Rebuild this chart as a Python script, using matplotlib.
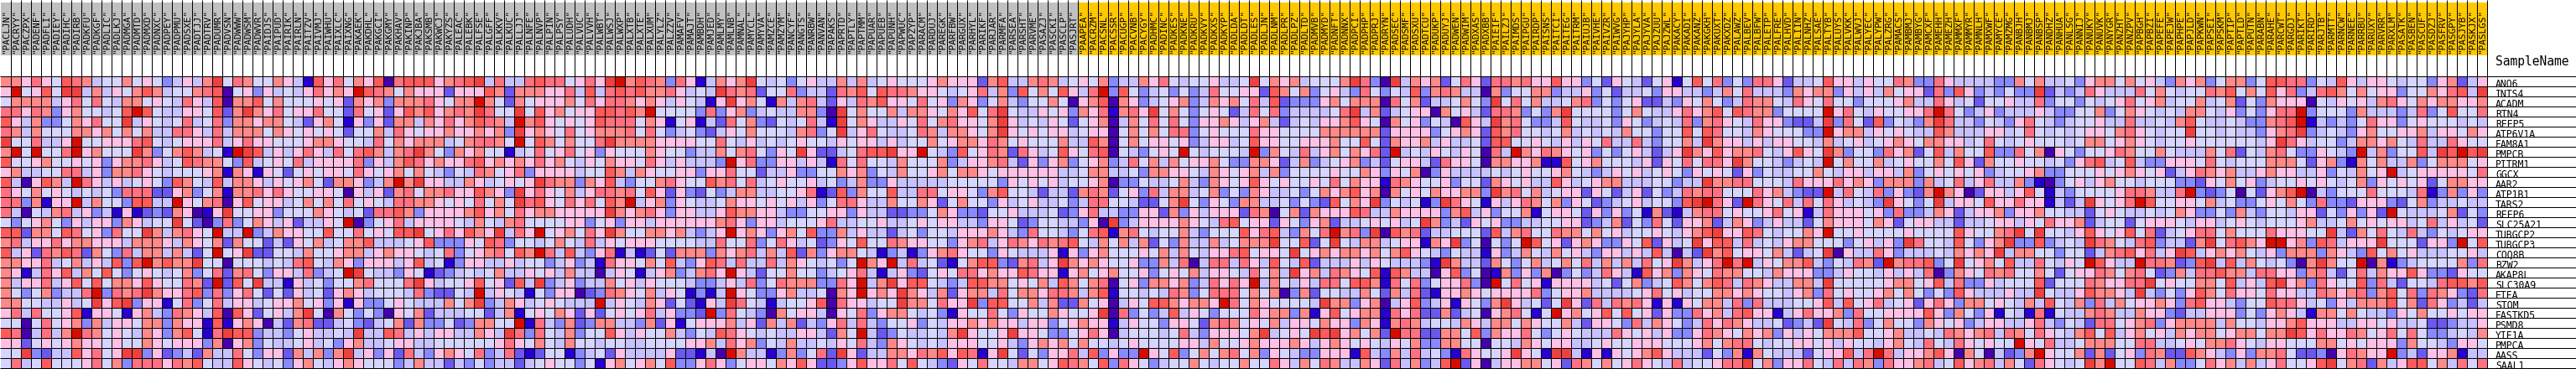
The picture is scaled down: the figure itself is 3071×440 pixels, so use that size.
import numpy as np
import matplotlib
matplotlib.use("Agg")
import matplotlib.pyplot as plt
from matplotlib.colors import ListedColormap

# 12 colour levels, 0 = lowest, b = highest
palette = ["#4500AD", "#2700D1", "#6B58EF", "#8888FF", "#C7C1FF", "#D5D5FF",
           "#FFC0E5", "#FF8989", "#FF7080", "#FF5A5A", "#EF4040", "#D60C00"]

genes = ["ANO6", "INTS4", "ACADM", "RTN4", "REEP5", "ATP6V1A", "FAM8A1", "PMPCB", "PITRM1", "GGCX",
         "AAR2", "ATP1B1", "TARS2", "REEP6", "SLC25A21", "TUBGCP2", "TUBGCP3", "COQ8B", "BZW2", "AKAP8L",
         "SLC30A9", "ETFA", "STOM", "FASTKD5", "PSMD8", "YIF1A", "PMPCA", "AASS", "SAAL1"]

samples_grey = """PACLJN PACRYY PACZPX PADENF PADFLI PADIEY PADIHC PADIRB PADKFU PADKGF PADLIC PADLKJ PADMGA PADMTD PADMXD PADNXC PADPEY PADPMU PADSXE PADTJJ PADTRV PADUMR PADVSN PADWWW PADWSM PADWVR PAIDJS PAIPUD PAIRIK PAIRLN PAITZV
PAIVMJ PAIWHU PAIXLC PAIXNG PAKAEK PAKDHL PAKGCI PAKGMY PAKHAV PAKINP PAKJBA PAKSMB PAKWCJ PAKYZS PALEAC PALEBK PALFSE PALGFF PALKKV PALKUC PALLJJ PALNFE PALNVP PALPIN PALPSY PALUDH PALVUC PALVVH PALWBT PALWSJ PALWXP
PALXTB PALXTE PALXUM PALYLZ PALZZV PAMAFV PAMAJT PAMBDH PAMJED PAMLMY PAMLNB PAMNAL PAMYCL PAMYVA PAMZCE PAMZYM PANCYF PANGTS PANRBW PANVAN PAPAKS PAPRTD PAPTLY PAPTMM PAPUAR PAPUEB PAPUNH PAPWUC PAPZYP PARACM PARDUJ
PAREGK PARFBW PARGUX PARHYL PARIKF PARJAR PARMFA PARSEA PARSHT PARVME PASAZJ PASCKI PASCLP PASJRT""".split()

samples_orange = """PAAPEA PACRZM PACSNL PACSSR PACUGP PACVNB PACYGY PADHMC PADINC PADKES PADKNE PADKRU PADKVY PADKXS PADKYP PADLDA PADLDT
PADLES PADLJN PADLNM PADLPR PADLPZ PADLTD PADMVB PADMYD PADNFT PADNNX PADPCI PADPHP PADPRJ PADRYN PADSEC PADSMF PADSXU PADTCU PADUKP PADUYJ PADWEN PADWIM PADXAS PADXBB PAIEIF PAILZJ PAIMDS PAIPGU PAIRDP PAISNS PAITCI
PAITEG PAITRM PAIUJB PAIVHE PAIVZR PAIWVG PAJYHP PAJYLA PAJYVA PAJZUU PAJZWL PAKACY PAKADI PAKANZ PAKGKH PAKUXT PAKXDZ PALAWZ PALBEV PALBFW PALETP PALFRE PALHVD PALIIN PALNHZ PALSAE PALTYB PALUYS PALVKK PALWVJ PALYEC
PALYPW PALZRG PAMACS PAMBMJ PAMBYG PAMCXF PAMEHH PAMEZH PAMMXF PAMMYR PAMNLH PAMXWF PAMYCE PAMZMG PANBJH PANBMJ PANBSP PANDHZ PANHUA PANLSG PANNIJ PANUKY PANUVK PANYGR PANZHT PANZPV PAPBGH PAPBZI PAPEFE PAPEJW PAPHPE
PAPJLD PAPKWN PAPSEI PAPSKM PAPTIP PAPTLD PAPUTN PARABN PARAHE PARCWT PARGDJ PARIKT PARIRD PARJTB PARMTT PARNCW PARNEE PARRBU PARUXY PARVRR PARXLM PASATK PASBEN PASCUF PASDZJ PASFRV PASGPY PASJYB PASKJX PASLGS""".split()

# heat levels, read by eye, one block per 31 columns
block1 = """7 7 6 8 6 5 9 8 7 4 5 5 7 5 6 5 3 4 6 4 7 a 5 8 7 5 5 7 6 4 1
6 b 5 6 9 5 a a 4 7 4 6 5 7 9 7 4 5 5 7 8 9 0 5 6 3 6 4 5 4 6
5 7 7 7 7 4 6 8 5 8 5 4 7 7 5 6 5 4 8 6 4 9 0 7 7 9 5 7 5 5 5
8 8 6 8 7 3 6 7 5 5 4 5 9 b 9 5 4 4 6 6 5 9 2 7 a 7 6 8 5 6 6
9 6 4 7 3 3 5 7 6 8 5 5 a 4 6 5 4 5 8 4 5 8 3 7 7 6 7 7 5 4 2
8 7 4 7 5 5 5 7 7 6 7 5 7 5 7 4 4 8 8 6 4 8 4 7 7 7 5 7 6 5 6
a 5 5 8 4 4 6 b 5 5 6 6 6 8 9 5 4 5 6 6 6 8 4 6 8 6 6 5 5 5 6
7 b 5 b 5 5 8 b 6 7 5 5 5 a 7 3 5 7 9 7 4 5 1 b a 9 4 6 4 6 8
9 5 5 6 7 5 5 6 5 6 3 6 7 7 8 6 4 5 9 8 7 7 5 3 9 4 5 6 5 8 4
6 7 4 4 5 5 8 8 4 6 3 7 7 8 6 5 4 5 5 5 6 7 1 7 6 1 6 5 2 5 6
9 4 0 6 9 7 4 b 8 6 4 6 4 5 6 5 3 9 7 5 4 9 4 7 7 6 4 6 5 6 7
8 6 5 7 5 6 5 4 5 4 5 3 8 8 8 2 2 6 7 3 5 7 1 7 7 8 6 8 6 5 5
8 8 3 7 1 6 6 b 4 7 5 5 3 9 9 4 4 b 6 5 7 8 0 6 9 5 6 6 4 5 7
8 4 0 5 4 7 8 4 6 3 4 1 6 1 2 3 2 7 6 0 1 6 a 5 5 6 6 3 5 5 5
5 3 5 6 7 5 3 6 4 6 6 3 7 6 4 5 5 a 5 2 0 3 8 3 5 7 6 4 6 2 4
9 9 2 7 7 5 9 8 5 6 3 8 5 5 a 7 4 7 8 6 5 b 4 4 b 3 4 7 6 6 5
7 8 4 6 6 8 6 7 7 6 6 6 4 7 7 7 6 4 7 6 5 7 2 7 5 5 2 4 2 6 5
9 4 6 2 8 7 9 8 2 7 5 3 8 4 7 7 4 7 4 2 5 b 5 6 a 2 2 5 5 4 7
7 7 6 6 8 4 5 7 4 6 4 9 3 9 b 7 9 7 7 a 5 5 0 5 5 5 4 5 4 8 9
7 6 1 4 8 6 9 4 7 5 9 5 3 5 6 5 4 5 7 3 5 8 2 7 8 5 3 6 6 4 8
7 4 6 6 8 4 6 9 5 9 5 7 7 6 9 6 5 5 8 7 2 b 2 9 5 a 4 4 1 6 4
7 5 3 5 7 3 4 4 8 b 3 8 7 8 a 7 6 6 8 9 3 8 3 6 8 5 2 5 2 6 4
7 7 5 5 4 4 6 4 5 a 6 9 a 3 6 6 1 5 8 3 5 8 4 6 6 4 5 6 6 7 5
6 8 4 8 5 5 6 9 1 6 6 5 1 6 7 4 3 8 7 6 4 9 0 9 6 2 5 6 4 7 a
5 5 0 5 8 5 6 7 3 7 4 6 6 5 7 7 3 7 6 6 1 9 1 6 7 6 0 4 2 7 8
9 8 0 4 8 4 7 b 8 7 5 6 5 4 7 6 3 7 9 5 1 8 a 9 9 3 4 4 3 5 6
6 6 2 5 6 5 6 7 6 6 5 6 5 5 7 6 5 6 6 6 3 7 0 6 7 3 5 4 4 5 6
5 5 a 3 2 4 4 9 6 8 5 6 a a 3 6 2 3 4 2 7 4 4 8 5 3 6 6 2 7 4
5 8 4 5 9 5 5 5 6 8 5 7 3 8 8 8 6 8 7 9 5 4 4 9 6 5 4 5 3 6 7"""

block2 = """9 6 8 5 7 6 9 0 8 9 9 9 6 7 8 9 a 4 8 4 4 8 9 8 8 5 6 8 6 a b
8 6 7 6 b 9 8 7 5 7 6 6 6 2 6 6 6 9 7 2 7 7 7 6 6 8 4 9 4 8 9
6 5 6 2 7 6 7 3 7 7 7 8 6 5 7 7 b 7 5 2 7 5 6 6 6 7 5 8 6 8 8
8 5 5 2 8 5 6 2 6 9 7 9 6 7 8 7 a 8 5 5 a 5 9 6 7 5 6 6 9 9 8
6 7 5 1 6 3 6 2 7 7 4 7 6 8 6 7 9 8 7 4 b 7 9 6 5 6 5 6 9 8 8
5 6 5 2 5 5 7 4 8 6 5 6 6 7 6 6 7 6 7 3 a 6 7 6 5 8 5 6 7 7 7
7 7 6 5 5 4 8 5 7 6 7 7 7 4 5 7 8 8 7 5 b 5 9 7 5 7 5 5 8 a 7
6 4 8 5 8 9 7 4 7 8 a 7 5 3 7 6 7 5 5 1 4 5 8 5 6 8 5 6 3 6 5
6 6 6 6 8 3 6 4 7 9 8 6 7 6 6 8 9 6 7 6 7 6 8 6 7 5 4 6 5 7 6
5 6 6 5 8 6 5 6 7 5 7 5 4 3 5 4 8 7 5 6 8 3 6 6 6 6 4 5 5 9 7
5 2 7 7 6 3 4 7 b 7 a 6 6 4 4 7 6 4 5 6 5 6 a 8 7 7 3 7 6 9 4
6 6 5 0 6 4 6 2 7 8 5 7 7 8 6 6 9 7 6 3 a 6 8 6 5 7 4 6 8 8 7
5 7 5 8 5 6 5 4 8 8 7 7 6 5 6 5 8 5 7 5 a 8 9 6 5 8 6 8 5 9 7
7 6 5 4 5 2 8 8 9 7 3 6 6 6 6 7 9 6 7 5 8 6 7 7 6 6 6 6 6 a 7
4 6 5 b 0 3 5 6 8 4 6 6 6 6 5 4 7 5 4 7 8 5 5 5 5 6 6 3 5 6 3
5 9 5 5 8 5 6 5 9 9 a 5 6 8 6 9 7 6 a 4 8 6 b 5 6 7 5 8 6 a 7
7 4 5 7 7 9 4 4 4 5 6 9 3 3 3 6 5 9 8 3 5 5 4 5 7 5 4 8 4 6 5
5 5 6 7 7 4 6 7 6 6 5 4 5 8 3 5 6 7 8 5 9 7 b 8 4 9 4 3 6 8 1
5 4 7 6 3 6 6 6 4 6 9 4 5 1 3 6 6 4 4 6 4 5 5 3 4 6 3 4 1 8 6
3 4 5 b a 5 4 4 3 6 5 1 2 3 4 5 4 5 7 4 4 6 5 6 4 7 4 4 0 4 6
5 3 5 5 7 8 5 5 5 8 a 6 4 5 5 6 9 5 6 2 9 4 a 3 4 6 3 4 4 7 5
5 2 6 7 6 4 5 5 5 4 8 3 2 2 5 4 b 4 6 5 4 1 5 3 6 6 0 2 3 8 7
6 3 6 1 6 3 3 5 6 5 4 4 4 7 5 7 a 3 4 7 6 4 5 6 5 4 4 4 b 4 6
5 0 7 5 3 5 3 0 6 5 7 2 4 4 4 5 5 2 4 7 1 5 6 5 7 6 2 6 2 5 6
2 2 4 5 3 2 4 5 7 2 7 3 3 5 2 3 7 7 5 5 b 1 8 4 3 7 2 3 7 7 4
4 4 5 4 a 4 4 9 8 4 6 4 6 6 4 4 7 6 4 a 8 3 8 5 4 7 3 5 5 9 6
4 5 3 6 7 4 4 5 6 6 4 4 5 5 5 5 5 5 6 8 6 5 7 5 4 7 5 5 4 5 5
7 3 7 a 4 6 3 6 2 8 4 3 6 7 6 5 8 3 4 8 2 1 2 5 5 1 3 4 5 2 6
5 4 6 7 6 5 5 5 3 4 7 4 4 2 4 3 5 3 4 4 2 4 5 6 5 5 3 5 1 6 7"""

block3 = """7 9 8 7 3 8 6 1 4 7 6 7 a 5 4 5 3 5 6 4 4 7 4 7 4 5 6 5 5 5 6
8 9 7 7 8 6 4 5 4 a 8 7 8 2 5 5 8 3 4 4 2 8 7 9 5 9 8 8 7 6 6
7 6 7 6 4 6 5 4 1 6 a 6 7 5 1 7 4 7 8 4 2 6 4 8 7 9 6 6 5 8 5
9 7 b 5 5 5 5 3 8 3 6 7 3 4 5 4 4 7 7 3 0 a 5 7 5 5 7 4 7 7 6
8 5 7 6 1 5 6 1 4 2 8 5 7 3 2 5 4 5 8 4 1 a 5 7 6 4 4 6 5 8 5
8 5 8 5 3 4 5 3 2 4 6 5 7 5 5 5 4 7 8 3 5 a 4 6 8 5 4 4 5 8 7
7 7 7 6 6 6 6 5 5 8 5 4 6 4 5 4 5 6 5 5 4 6 5 6 6 4 6 4 5 5 7
5 5 7 6 5 5 3 4 4 7 5 7 8 5 3 6 5 a 6 2 2 4 5 8 9 9 a 6 6 b 5
6 5 8 6 4 6 4 4 4 3 b 6 8 3 3 6 6 4 6 4 1 8 5 8 5 5 4 7 5 5 5
4 7 6 5 5 6 6 3 6 6 8 5 5 2 4 4 6 3 3 5 5 7 6 7 3 5 4 7 5 5 6
3 5 5 7 8 6 5 5 9 7 8 5 8 4 5 6 5 5 6 4 5 3 4 7 3 3 6 4 4 4 4
8 5 9 6 2 6 3 2 5 3 4 7 7 4 4 5 5 6 8 1 2 9 3 7 5 5 9 4 4 8 8
b 4 6 7 3 6 5 4 4 5 7 6 6 5 6 5 6 4 6 3 5 8 8 6 4 4 7 5 5 7 6
6 7 8 6 3 6 6 4 4 6 9 7 7 6 6 4 3 3 5 5 6 6 3 6 4 4 2 2 3 3 5
6 6 4 6 6 6 6 6 6 7 8 6 3 6 6 4 5 5 5 6 8 4 4 5 5 6 4 4 5 6 5
5 5 7 7 6 7 4 3 4 6 b 6 7 6 3 6 7 5 9 3 3 7 4 6 4 4 2 4 5 3 5
6 6 6 5 5 5 5 4 4 8 5 5 8 3 5 8 6 4 5 2 3 6 5 9 5 5 8 7 6 6 5
4 1 2 5 2 7 7 7 3 7 6 7 8 4 7 4 9 2 7 3 6 7 7 5 4 1 3 4 1 3 6
6 5 7 5 9 4 3 6 9 8 4 8 4 4 8 4 7 6 5 4 5 3 5 b 7 6 b 4 8 4 5
5 1 4 6 7 3 4 7 8 6 b 6 4 2 5 5 7 5 5 3 4 5 6 8 4 1 4 6 3 2 5
6 4 6 5 5 5 4 3 3 4 6 4 8 3 5 8 7 7 7 3 3 8 6 b 4 7 a 6 9 9 5
6 5 7 4 6 5 1 3 1 4 b 6 5 3 3 6 7 4 4 5 0 7 6 b 6 7 6 a 7 6 4
5 4 7 6 2 5 2 1 6 4 a 8 5 4 1 4 5 5 6 9 0 8 6 6 4 5 5 a 7 7 5
5 6 8 4 6 3 3 2 b 3 8 5 4 3 0 7 5 6 6 4 0 6 5 8 3 6 7 7 5 4 5
4 3 7 2 6 1 5 6 6 6 7 4 6 2 7 4 7 2 4 3 6 8 4 8 4 3 5 5 6 3 5
4 6 5 5 7 4 3 5 4 9 8 6 5 4 5 4 4 6 6 4 2 7 5 b 4 2 3 5 4 4 5
4 4 5 5 5 5 6 6 7 4 8 6 7 3 5 4 7 4 4 5 4 6 5 8 4 3 7 6 5 4 5
4 4 4 4 6 2 2 1 4 0 b 7 4 4 1 3 7 3 5 8 2 a 6 2 4 4 7 7 6 8 7
5 6 7 5 9 3 3 6 8 6 3 5 6 6 5 7 6 9 6 2 2 3 6 9 6 6 8 5 9 5 4"""

block4 = """7 6 6 6 2 7 9 4 4 7 8 7 4 5 6 5 7 3 4 4 7 6 8 5 4 5 5 6 4 4 5
5 4 5 6 8 4 7 3 9 5 7 5 9 6 4 8 b 3 9 5 3 4 5 3 5 3 4 8 5 5 6
6 3 7 6 3 5 7 4 3 5 5 7 5 0 6 7 9 0 7 6 3 4 5 6 7 3 4 7 6 7 5
5 7 6 9 5 8 a 5 4 4 6 5 6 3 7 6 8 1 7 8 6 a 5 7 5 3 5 6 5 2 4
7 8 6 6 5 7 a 6 4 5 4 6 5 2 5 6 7 0 4 7 5 8 5 8 5 3 6 6 7 6 4
4 7 7 6 5 7 a 6 5 6 5 6 6 4 5 6 6 0 5 7 5 7 5 8 8 3 5 6 5 5 5
5 6 7 7 6 8 7 5 6 5 5 5 7 4 4 9 7 0 5 7 5 6 6 5 6 3 4 6 6 4 5
4 3 9 5 6 8 7 2 8 6 4 5 9 6 5 8 9 0 5 4 3 5 6 5 b 5 4 5 5 5 4
7 3 4 6 6 7 8 4 2 6 3 6 7 3 5 6 7 3 4 8 5 7 4 7 5 6 6 7 5 3 3
7 5 7 7 6 5 6 6 6 6 6 6 4 4 5 7 7 4 4 5 3 7 7 6 6 5 4 7 6 5 6
4 5 5 5 5 5 3 6 5 6 5 6 4 5 5 6 7 0 3 3 5 4 4 5 7 4 3 7 6 5 6
5 6 6 5 3 7 9 5 5 4 2 4 4 2 7 8 7 2 5 6 3 8 4 7 7 4 5 7 3 5 3
2 5 7 5 5 3 6 4 5 6 4 4 5 3 4 8 8 5 5 4 2 2 5 7 a 5 3 6 5 3 7
7 6 3 3 2 5 5 6 4 4 4 5 2 3 6 8 4 4 3 3 6 6 2 7 3 6 4 6 6 6 2
6 6 4 4 3 6 6 5 2 3 5 5 4 4 3 6 0 a 3 4 6 6 6 6 7 6 5 4 8 9 5
5 4 6 6 6 7 6 4 3 8 5 5 4 3 5 8 9 1 7 8 5 4 5 5 7 4 3 5 5 5 9
5 3 6 7 8 4 6 8 7 6 8 7 8 9 5 4 7 5 7 4 7 2 5 3 7 4 4 7 4 5 7
7 8 6 5 5 3 6 5 4 4 4 6 1 6 3 6 7 5 5 5 6 5 7 4 7 5 4 6 6 8 9
2 1 5 7 9 9 3 2 7 8 4 6 a 7 6 7 6 5 5 6 3 3 7 4 8 0 4 8 8 4 8
6 5 8 8 6 7 6 6 9 8 6 6 1 6 7 5 6 7 5 5 6 3 5 6 5 7 4 6 6 5 4
4 3 4 9 9 7 7 5 6 5 7 4 9 7 5 7 8 0 5 6 3 7 7 6 7 3 4 8 6 8 6
7 2 6 7 7 4 8 5 7 7 6 8 8 7 4 7 9 1 5 5 4 5 4 8 7 3 5 8 8 8 5
8 6 6 a 3 9 9 5 5 7 4 7 2 2 7 5 6 0 4 6 5 9 9 7 6 7 7 6 b 8 5
3 1 6 5 5 8 5 3 6 5 5 7 6 5 5 6 a 0 8 3 5 3 4 9 4 6 5 3 5 5 5
4 6 6 7 6 7 6 6 4 6 6 3 5 6 7 6 6 1 4 6 5 5 3 6 6 5 2 7 8 7 5
4 7 a 6 5 5 6 a 6 6 5 3 3 5 6 8 6 0 4 5 5 5 4 5 8 4 3 6 6 6 5
4 6 6 6 5 5 6 4 3 6 7 6 7 5 7 5 5 4 5 6 5 5 5 5 6 6 4 7 5 5 6
9 6 9 8 1 6 a 5 2 5 3 6 6 8 4 9 3 6 3 3 b 6 5 9 3 5 7 5 7 8 5
3 2 6 5 8 5 5 4 7 7 5 6 9 8 7 5 9 3 8 6 5 3 4 5 5 7 5 4 5 5 7"""

block5 = """a 5 7 6 7 4 5 5 5 7 a 8 3 0 a 4 7 6 7 2 5 8 6 2 8 8 7 8 6 6 9
6 2 9 7 5 7 3 5 6 4 3 8 5 3 5 4 9 3 7 8 7 4 4 0 7 3 5 5 7 7 3
8 4 9 2 3 3 3 6 7 5 7 7 7 0 8 5 7 2 4 4 5 7 5 3 a 5 8 5 7 4 4
8 5 8 3 4 4 4 4 5 8 a 4 7 2 4 5 6 6 0 7 5 6 4 2 8 8 7 3 5 3 7
6 7 4 2 4 5 4 6 6 7 9 6 5 0 7 5 6 3 5 4 0 9 6 4 a 7 8 5 3 3 4
8 6 6 5 5 5 5 7 7 7 7 7 7 2 6 6 6 6 3 5 6 7 6 2 9 7 8 5 5 4 5
9 6 6 5 5 6 6 6 7 5 5 9 5 2 7 6 6 7 4 6 4 4 5 2 9 9 5 5 6 5 4
b 3 7 5 4 8 4 6 7 5 7 6 8 2 b 4 5 4 6 5 4 6 5 0 8 4 b 7 6 8 7
7 7 6 2 4 7 3 4 5 6 7 3 4 2 5 6 6 4 2 8 6 6 5 0 7 7 6 6 7 1 1
7 4 7 3 5 5 5 5 6 5 5 7 6 3 6 5 7 0 3 6 4 4 4 4 5 4 5 6 5 5 6
9 6 5 6 5 5 6 5 8 5 7 6 6 1 8 7 6 5 5 6 3 5 5 2 7 6 5 6 4 4 9
7 6 4 4 5 3 5 7 6 7 9 6 7 0 7 5 6 5 7 6 6 7 7 3 a 7 8 5 7 4 5
7 4 4 5 3 5 3 2 9 5 7 6 a 3 5 4 5 1 3 a 8 6 5 1 6 4 6 8 7 5 7
8 7 0 5 7 2 7 6 6 6 9 8 4 4 7 6 6 6 6 3 7 9 4 6 3 5 5 7 1 5 6
6 6 2 6 5 3 6 7 2 4 4 5 6 5 6 4 5 a 7 3 4 2 6 5 6 3 3 4 4 5 5
6 8 9 4 3 7 5 8 b 7 8 3 a 0 9 7 8 2 4 4 5 5 5 2 9 4 7 8 5 5 8
7 7 a 5 5 9 2 5 a 5 4 7 7 4 5 6 6 1 7 6 a 3 5 0 5 3 5 b 9 5 6
5 6 6 5 a 5 6 7 6 7 7 6 7 5 7 9 6 5 4 3 5 4 4 1 6 3 4 7 5 4 7
6 4 9 5 4 9 2 4 4 4 6 4 6 5 4 4 4 3 1 a 7 4 4 2 7 5 3 5 7 4 5
8 5 7 4 a 6 7 4 8 7 6 5 9 1 9 7 4 4 0 6 9 3 5 0 1 7 3 6 3 7 0
b 4 7 5 4 6 4 8 8 5 9 9 7 1 8 5 8 3 5 6 6 8 3 0 b 5 8 5 6 1 6
7 5 7 0 3 7 2 5 5 4 4 7 5 2 7 4 8 2 1 6 6 7 6 5 6 6 6 6 8 3 5
7 6 5 5 5 5 4 a 7 7 3 6 7 0 4 6 9 3 4 6 1 6 5 3 7 a 6 4 5 2 5
8 6 7 7 3 7 1 6 9 5 6 7 7 1 8 6 8 2 2 7 2 4 5 0 6 7 8 5 1 5 b
6 5 7 4 6 6 5 7 6 6 3 7 6 1 7 8 7 4 5 5 4 7 6 4 7 7 5 7 6 5 5
7 a 4 5 6 5 a 9 a 6 7 5 7 2 b 8 8 2 2 7 7 5 9 3 7 6 6 8 5 3 5
7 6 6 6 7 6 4 6 7 6 5 6 5 4 6 5 7 3 3 7 7 5 5 0 5 5 4 7 6 5 6
7 3 6 5 4 3 3 6 6 6 1 9 4 3 7 4 8 4 5 3 1 8 6 5 5 6 a 6 5 1 a
5 5 8 6 4 7 5 8 7 4 4 7 6 2 8 4 7 3 4 9 b 2 6 0 4 6 6 7 7 5 6"""

block6 = """6 6 3 5 2 6 5 4 2 5 6 1 5 9 5 8 3 5 3 8 8 6 2 4 4 5 9 6 6 4 6
4 4 6 3 5 2 4 4 5 3 6 6 4 4 3 4 7 5 8 4 4 4 3 7 6 7 7 3 6 4 6
5 7 8 3 5 3 5 6 2 2 4 3 6 5 7 5 3 4 8 7 7 5 4 8 6 5 8 5 5 3 5
a 5 5 5 5 3 5 7 5 4 4 6 8 6 7 9 5 9 8 7 7 3 5 5 5 5 b 6 8 5 4
9 5 4 4 5 3 6 5 3 4 5 4 8 3 7 8 6 5 4 8 6 6 3 2 2 4 a 3 8 5 2
7 4 5 4 5 4 7 5 5 3 5 5 9 5 9 8 5 5 4 7 6 5 5 5 3 3 b 6 7 7 4
6 4 6 5 8 4 4 8 4 3 5 5 7 4 a 7 6 6 4 6 4 6 6 5 5 4 7 4 5 6 4
6 5 6 3 5 3 5 6 4 2 4 6 a 7 6 9 6 7 7 8 5 4 6 9 6 5 a 7 3 5 5
9 5 6 7 5 5 5 4 6 2 6 5 8 5 8 8 6 a 7 5 5 4 3 4 5 4 b 5 7 5 5
7 5 4 3 4 6 5 6 4 5 6 5 3 6 5 6 5 2 6 3 5 4 4 5 5 7 5 4 6 6 4
6 4 5 6 7 7 4 4 4 5 5 3 4 4 a 7 7 8 8 5 5 5 4 8 6 6 6 8 6 7 6
6 6 2 6 5 2 4 6 2 5 3 4 8 7 8 8 5 5 5 8 6 7 4 3 2 2 b 4 8 5 4
3 6 5 2 3 4 5 6 4 5 5 3 9 a b 8 6 2 b 8 6 5 8 4 8 5 8 6 4 5 4
6 5 2 6 3 6 3 5 1 7 2 1 4 7 8 8 5 6 5 5 6 8 5 6 1 4 8 6 6 6 5
6 6 2 3 4 7 2 5 3 8 5 2 6 6 7 2 4 7 6 3 4 6 4 4 2 5 7 6 6 6 5
7 7 5 7 5 6 4 5 5 6 5 4 6 7 9 a 6 6 9 8 5 4 5 5 7 6 b 5 5 6 5
2 6 7 6 3 3 6 5 9 2 6 4 5 a 6 9 9 4 8 4 5 4 6 7 7 5 5 5 3 5 6
5 6 4 3 6 6 4 6 4 9 4 0 4 2 a 7 9 5 6 6 5 7 4 2 4 5 a 0 6 4 4
7 5 8 4 7 4 7 4 8 5 6 a 7 4 6 8 b 8 b 4 6 5 7 7 9 4 3 5 4 8 7
3 5 3 4 8 6 4 1 9 6 7 3 7 6 5 8 7 7 5 5 4 7 6 6 6 3 3 4 6 5 5
6 6 6 4 5 2 5 7 3 4 5 9 7 5 7 9 8 4 8 7 6 4 4 7 7 4 a 5 5 5 5
6 6 7 4 4 4 4 5 6 8 5 6 4 5 5 7 7 6 7 6 5 5 4 6 7 3 8 5 6 5 5
a 6 2 8 4 8 7 8 6 1 6 1 6 5 7 7 4 8 3 8 4 4 4 5 5 6 9 4 9 5 6
6 7 5 6 9 5 9 5 6 2 6 3 3 8 6 7 4 8 9 6 6 1 4 6 8 6 6 7 3 8 5
7 4 2 6 6 5 3 8 4 7 6 5 3 4 8 6 8 7 6 4 4 5 2 3 4 2 a 5 4 8 3
6 5 4 4 4 8 6 5 6 4 6 3 3 6 8 7 6 5 7 6 7 3 6 4 6 5 7 7 7 9 5
6 4 4 5 6 5 5 6 6 6 5 5 5 6 7 5 7 8 8 5 4 5 5 6 6 5 6 4 6 5 5
a 4 1 6 1 6 5 6 7 9 6 4 4 4 2 5 3 7 1 7 5 4 4 4 2 5 6 6 9 4 8
2 8 7 5 7 5 6 8 6 5 4 8 4 5 5 6 8 8 a 5 7 3 6 6 8 5 4 8 4 8 7"""

block7 = """5 5 8 7 3 3 8 6 4 4 4 4 3 3 7 5 7 4 4 5 3 6 7 7 5 7 5 6 4 3 7
4 7 5 6 6 2 8 3 9 6 3 4 3 5 3 3 a 2 4 3 4 8 6 4 4 4 8 5 7 5 4
5 5 6 7 4 4 8 6 4 5 2 5 5 6 4 4 8 3 5 5 3 5 4 5 6 8 5 6 7 4 5
6 5 5 6 6 8 b 8 5 3 4 6 3 4 4 4 6 4 3 3 5 5 7 3 5 7 6 5 4 5 4
9 3 5 4 3 7 a 8 4 4 3 5 4 3 6 8 5 4 3 4 5 5 6 4 4 8 4 4 5 4 7
6 5 6 5 4 4 9 7 4 4 4 6 6 4 5 8 5 4 5 4 5 6 6 5 7 8 6 5 4 5 5
5 6 7 6 5 7 7 6 6 4 5 8 5 4 5 6 5 5 5 4 5 7 7 5 6 7 6 5 4 5 5
3 8 6 7 2 5 9 4 7 5 5 9 3 3 8 5 7 0 6 5 3 5 5 6 8 7 5 5 7 5 4
7 4 5 6 5 5 7 5 9 6 2 7 5 5 6 5 5 4 5 3 6 8 9 4 5 9 4 3 3 6 6
6 6 4 7 3 5 6 5 6 5 6 3 4 5 5 6 7 3 3 5 5 5 6 5 6 7 6 5 6 2 4
3 7 7 7 3 7 4 5 8 4 6 8 4 4 7 3 1 0 3 5 6 4 6 7 5 5 4 5 5 5 3
8 3 6 3 2 7 b 7 6 0 2 6 6 4 6 9 5 1 4 3 5 5 5 5 6 8 8 7 4 4 8
3 a 6 5 3 5 a 4 6 6 5 9 6 6 8 6 6 1 4 2 4 a 6 5 6 8 b 9 5 5 6
6 3 8 3 3 4 7 6 2 4 6 6 7 3 6 6 7 5 5 4 4 2 5 6 5 4 4 5 4 5 7
7 6 2 5 6 6 4 4 2 4 4 5 6 6 4 6 5 8 6 6 7 2 4 5 5 2 5 6 6 6 5
5 5 5 6 5 5 5 5 9 6 5 5 7 8 a 5 a 5 5 4 6 9 6 5 6 9 5 8 2 4 5
4 6 3 a 8 5 5 4 9 5 3 6 7 a 3 3 9 3 4 5 4 a 8 7 5 4 8 9 3 4 4
8 6 3 4 4 4 5 4 7 6 7 6 a 4 7 7 5 5 3 5 5 2 4 7 8 9 6 8 4 6 a
2 b 7 8 8 9 3 5 a 5 6 7 5 9 4 4 8 5 4 6 5 b 9 6 4 4 b 8 8 7 2
4 6 4 6 4 8 0 3 7 6 5 8 7 8 5 5 7 5 2 5 6 6 8 7 5 7 8 5 2 3 7
5 6 7 7 5 6 9 4 8 3 3 6 4 5 5 5 9 2 5 5 5 8 7 6 6 8 8 a 5 6 5
6 7 5 7 5 3 5 3 9 6 4 4 4 6 4 4 a 5 4 4 6 9 7 7 6 4 a 4 3 5 3
8 4 5 6 2 6 8 6 3 7 7 5 6 5 4 7 4 9 5 4 7 3 8 4 7 5 6 6 7 6 3
5 6 6 6 6 9 6 3 7 5 3 6 1 5 4 1 8 1 5 4 4 7 8 7 4 4 7 6 6 3 2
5 7 5 5 3 7 6 5 6 3 4 6 6 4 4 6 8 4 3 5 4 2 8 8 5 6 7 8 3 6 7
5 6 7 4 4 5 4 8 7 6 7 8 4 8 7 5 8 6 5 4 7 9 5 9 4 6 7 5 6 4 7
4 6 7 5 4 8 5 4 8 6 5 6 5 5 b 6 5 8 4 4 5 7 7 7 5 5 8 8 4 4 5
b 8 4 6 6 7 9 6 0 7 5 0 4 2 3 7 b 6 5 5 7 2 7 2 5 6 3 8 7 2 2
3 8 6 6 7 8 4 5 9 6 7 8 4 7 5 2 8 6 5 4 5 a 7 b 5 5 9 8 4 7 3"""

block8 = """6 7 3 5 7 7 3 5 9 9 8 8 3 5 4 9 6 4 6 6 5 4 5 5 3 6 7 2 4 6
5 5 8 7 9 5 7 5 9 6 8 3 4 8 9 7 5 7 5 6 6 3 5 5 7 6 8 9 4 a
5 7 4 5 7 2 5 3 7 6 6 6 0 5 4 6 5 6 4 7 8 6 5 7 6 7 7 6 6 7
7 7 5 4 6 3 5 3 6 8 8 b 3 5 5 5 3 7 4 4 4 3 4 8 3 5 9 5 5 8
9 5 4 4 5 4 3 3 7 8 9 b 1 4 3 4 3 5 8 6 6 3 5 6 5 5 5 4 5 4
a 5 5 4 5 4 4 3 6 7 8 a 3 4 5 4 3 6 7 5 5 6 6 7 4 6 6 5 7 6
6 5 5 5 5 5 5 4 6 a 8 6 4 5 5 3 4 7 7 6 7 5 4 8 4 4 8 6 5 5
4 4 7 5 8 2 5 4 7 8 5 3 3 6 5 4 3 b 4 7 3 5 5 9 4 a 9 b 9 a
6 5 8 5 4 5 5 5 7 7 7 5 2 6 7 3 1 7 5 7 4 4 7 3 5 7 7 7 5 6
6 8 7 6 7 4 4 6 7 6 6 4 4 6 3 5 4 7 5 6 b 4 5 6 6 6 6 6 5 8
3 2 6 5 7 5 6 3 4 5 5 6 5 6 5 4 5 7 3 6 5 6 5 6 2 5 7 7 6 6
b 3 2 3 5 0 5 2 6 7 9 b 0 4 3 5 5 5 8 5 5 5 4 8 1 3 7 3 6 3
6 5 7 4 5 3 3 5 6 5 7 5 3 8 3 3 2 6 6 6 3 2 5 7 3 4 4 5 4 4
6 3 3 5 3 7 4 3 5 5 4 6 6 2 5 3 6 3 6 2 b 5 4 4 4 5 7 2 5 3
4 6 6 4 5 6 5 4 5 5 5 6 7 4 4 5 7 5 6 5 6 6 4 5 8 4 6 4 5 2
6 8 8 5 7 5 5 5 8 6 6 6 5 5 a 4 2 7 5 8 5 4 8 4 3 5 4 5 6 6
2 7 a 5 8 9 7 6 b b 6 7 3 9 8 4 6 6 6 a 5 5 5 2 6 6 3 b 5 9
9 4 6 7 6 7 5 4 6 3 7 7 7 3 7 6 4 3 9 5 7 5 6 4 4 4 5 5 6 4
3 9 a 4 9 4 7 5 4 5 3 0 7 a 7 5 5 b 0 7 1 3 4 5 5 5 5 7 3 8
4 8 8 9 7 7 4 8 8 6 6 3 7 8 4 2 5 8 4 7 6 6 9 6 3 3 2 6 5 5
5 7 7 5 9 4 6 4 9 a 6 7 3 8 6 5 5 9 3 8 4 2 5 5 4 8 9 9 7 9
6 9 7 5 8 6 6 5 8 6 6 4 4 8 7 6 7 8 3 7 9 5 8 3 8 7 6 3 2 8
8 9 6 6 4 3 5 5 9 8 8 6 4 5 3 6 4 7 7 7 9 5 7 2 8 6 3 4 2 4
4 4 6 6 6 3 5 3 6 7 6 4 1 7 7 5 7 5 4 4 3 6 5 7 5 5 6 5 6 6
7 7 7 4 7 5 5 4 6 6 7 9 6 6 6 4 4 6 6 5 6 4 4 5 2 2 3 4 4 6
6 7 7 5 6 7 7 5 7 7 a 9 6 8 6 6 8 7 5 6 8 5 8 5 3 3 4 5 4 7
6 5 7 7 8 6 5 4 6 6 5 5 5 7 7 5 6 5 6 6 6 3 7 5 5 4 3 6 6 5
9 7 6 4 3 6 3 7 7 8 5 2 2 3 0 6 8 7 6 6 b 3 4 2 6 6 7 1 4 4
3 5 8 6 7 4 7 4 6 8 5 5 6 9 a 5 7 8 2 7 4 6 9 9 5 7 4 8 5 8"""


def parse_block(text):
    return np.array([[int(c, 16) for c in line.split()] for line in text.splitlines()])


levels = np.hstack([parse_block(b) for b in [block1, block2, block3, block4, block5, block6, block7, block8]])
samples = samples_grey + samples_orange
n_rows, n_cols = levels.shape

cell = 12
x0, y0 = 0.5, 91.5
xs = x0 + cell * np.arange(n_cols + 1)
ys = y0 + cell * np.arange(n_rows + 1)
px = 72 / 100  # one pixel in points

fig = plt.figure(figsize=(30.71, 4.40), dpi=100, facecolor="white")
ax = fig.add_axes([0, 0, 1, 1])
ax.set_xlim(0, 3071)
ax.set_ylim(440, 0)
ax.axis("off")

# header band
header_colors = ["#C0C0C0"] * len(samples_grey) + ["#FFC800"] * len(samples_orange)
ax.bar(x0 + cell * (np.arange(n_cols) + 0.5), 62.5, width=cell, bottom=3.3, color=header_colors, linewidth=0)

ax.pcolormesh(xs, ys, levels, cmap=ListedColormap(palette), vmin=-0.5, vmax=11.5,
              linewidth=0, antialiased=False, zorder=2)

# grid as separate one pixel lines, the mesh edges came out too heavy
ax.vlines(xs[1:], 0, ys[-1], color="black", linewidth=px, zorder=3)
ax.hlines(ys, 0, 3071, color="black", linewidth=px, zorder=3)

for i, name in enumerate(samples):
    ax.text(x0 + cell * (i + 0.5) + 1, 64, f'"{name}"', rotation=90, ha="center", va="bottom",
            family="DejaVu Sans Mono", fontsize=7.9, color="black", zorder=4)

for r, gene in enumerate(genes):
    ax.text(2975, ys[r + 1] + 0.5, gene, ha="left", va="baseline",
            family="DejaVu Sans Mono", fontsize=8.3, color="black", zorder=4)

ax.text(2975, 78, "SampleName", ha="left", va="baseline",
        family="DejaVu Sans Mono", fontsize=10.5, color="black")

fig.savefig("out.png", dpi=100)
